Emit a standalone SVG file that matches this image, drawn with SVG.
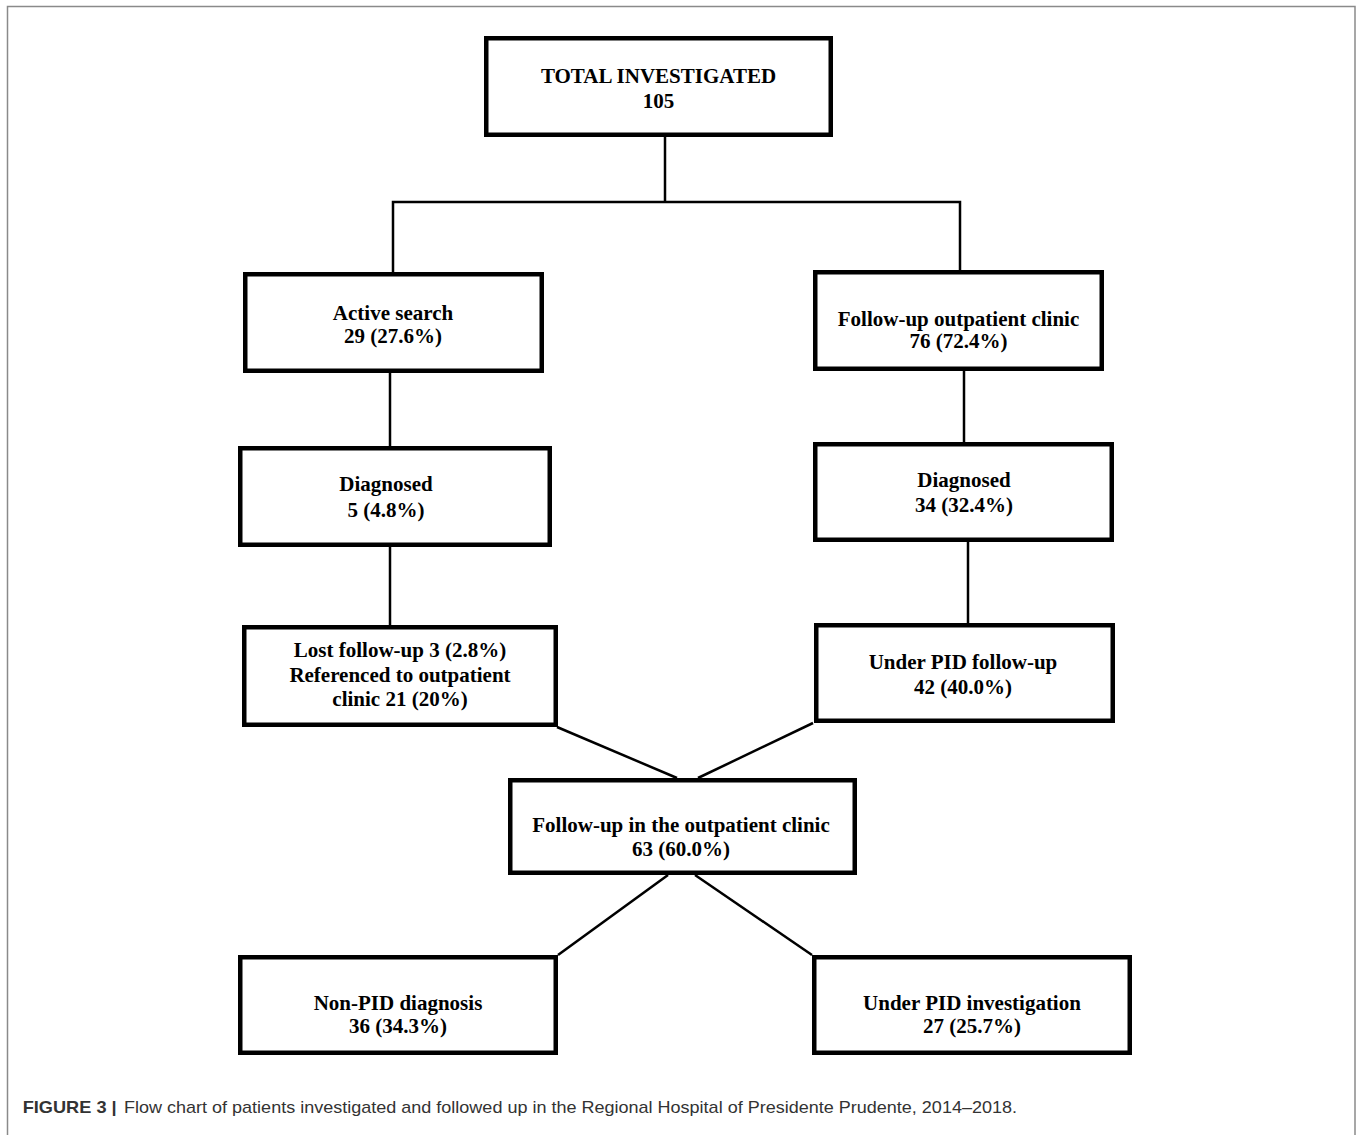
<svg xmlns="http://www.w3.org/2000/svg" width="1357" height="1135" viewBox="0 0 1357 1135">
<style>
.box{fill:#fff;stroke:#000;stroke-width:4.5}
.lbl{font-family:"Liberation Serif","Times New Roman",serif;font-weight:bold;font-size:21px;fill:#000;text-anchor:middle}
.con{fill:none;stroke:#000;stroke-width:2.5}
.frame{fill:none;stroke:#8a8a8a;stroke-width:1.5}
.cap{font-family:"Liberation Sans",Arial,sans-serif;font-size:17px;fill:#333}
</style>
<rect width="1357" height="1135" fill="#fff"/>
<path class="frame" d="M7.5,1135 V6.5 H1355 V1135"/>
<g id="connectors">
<path class="con" d="M665,137 V202"/>
<path class="con" d="M393,272 V202 H960 V270"/>
<path class="con" d="M390,373 V446"/>
<path class="con" d="M964,371 V442"/>
<path class="con" d="M390,547 V625"/>
<path class="con" d="M968,542 V623"/>
<path class="con" d="M557,727 L677,778"/>
<path class="con" d="M813,723 L698,778"/>
<path class="con" d="M668,875 L558,955"/>
<path class="con" d="M695,875 L812,955"/>
</g>
<g id="n-total">
<rect class="box" x="486.25" y="38.25" width="344.5" height="96.5"/>
<text class="lbl" x="658.5" y="82.7">TOTAL INVESTIGATED</text>
<text class="lbl" x="658.5" y="108">105</text>
</g>
<g id="n-active">
<rect class="box" x="245.25" y="274.25" width="296.5" height="96.5"/>
<text class="lbl" x="393" y="320">Active search</text>
<text class="lbl" x="393" y="343">29 (27.6%)</text>
</g>
<g id="n-followup">
<rect class="box" x="815.25" y="272.25" width="286.5" height="96.5"/>
<text class="lbl" x="958.5" y="326">Follow-up outpatient clinic</text>
<text class="lbl" x="958.5" y="348">76 (72.4%)</text>
</g>
<g id="n-diag-left">
<rect class="box" x="240.25" y="448.25" width="309.5" height="96.5"/>
<text class="lbl" x="386" y="491">Diagnosed</text>
<text class="lbl" x="386" y="517">5 (4.8%)</text>
</g>
<g id="n-diag-right">
<rect class="box" x="815.25" y="444.25" width="296.5" height="95.5"/>
<text class="lbl" x="964" y="487">Diagnosed</text>
<text class="lbl" x="964" y="512">34 (32.4%)</text>
</g>
<g id="n-lost">
<rect class="box" x="244.25" y="627.25" width="311.5" height="97.5"/>
<text class="lbl" x="400" y="657">Lost follow-up 3 (2.8%)</text>
<text class="lbl" x="400" y="682">Referenced to outpatient</text>
<text class="lbl" x="400" y="706">clinic 21 (20%)</text>
</g>
<g id="n-under-pid-fu">
<rect class="box" x="816.25" y="625.25" width="296.5" height="95.5"/>
<text class="lbl" x="963" y="669">Under PID follow-up</text>
<text class="lbl" x="963" y="694">42 (40.0%)</text>
</g>
<g id="n-center">
<rect class="box" x="510.25" y="780.25" width="344.5" height="92.5"/>
<text class="lbl" x="681" y="832">Follow-up in the outpatient clinic</text>
<text class="lbl" x="681" y="856">63 (60.0%)</text>
</g>
<g id="n-nonpid">
<rect class="box" x="240.25" y="957.25" width="315.5" height="95.5"/>
<text class="lbl" x="398" y="1010">Non-PID diagnosis</text>
<text class="lbl" x="398" y="1033">36 (34.3%)</text>
</g>
<g id="n-under-pid-inv">
<rect class="box" x="814.25" y="957.25" width="315.5" height="95.5"/>
<text class="lbl" x="972" y="1010">Under PID investigation</text>
<text class="lbl" x="972" y="1033">27 (25.7%)</text>
</g>
<text class="cap" x="22.7" y="1113" font-weight="bold" fill="#222" textLength="94" lengthAdjust="spacingAndGlyphs">FIGURE 3 |</text>
<text class="cap" x="124" y="1113" textLength="893" lengthAdjust="spacingAndGlyphs">Flow chart of patients investigated and followed up in the Regional Hospital of Presidente Prudente, 2014–2018.</text>
</svg>
